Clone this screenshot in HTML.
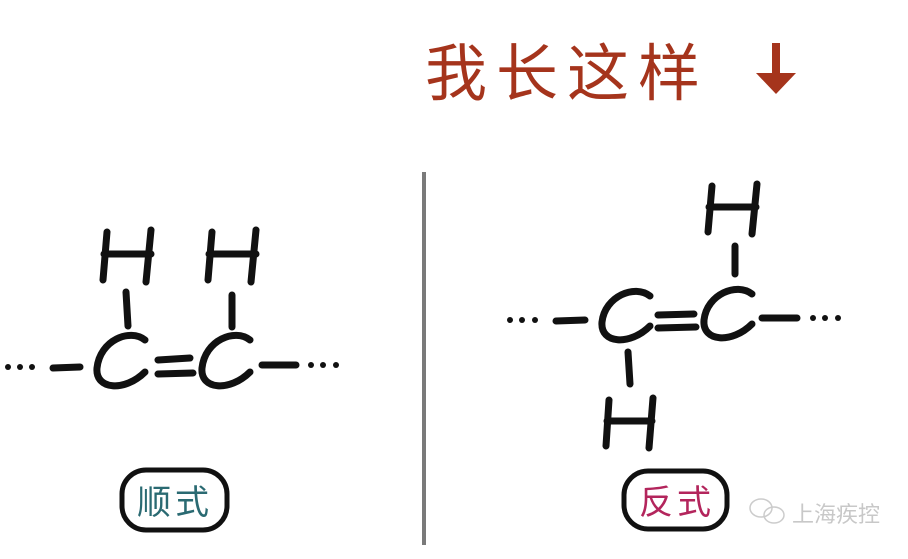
<!DOCTYPE html>
<html><head><meta charset="utf-8"><style>
html,body{margin:0;padding:0;background:#fff;}
body{width:908px;height:559px;overflow:hidden;position:relative;}
svg{position:absolute;left:0;top:0;}
</style></head><body>
<svg width="908" height="559" viewBox="0 0 908 559" xmlns="http://www.w3.org/2000/svg">
<g fill="none" stroke="#111" stroke-width="7" stroke-linecap="round">
<path d="M107 232 L103 280 M151 230 L146 282 M104 254 L151 254"/>
<path d="M212 232 L208 280 M256 230 L251 282 M209 254 L256 254"/>
<path d="M126 292 L128 326 M232 295 L232 327"/>
<path d="M145 340 C130 328 100 340 97 368 C95 390 125 392 145 372"/>
<path d="M250 340 C235 328 205 340 202 368 C200 390 230 392 250 372"/>
<path d="M158 360 L190 358 M158 374 L193 373"/>
<path d="M53 368 L80 367 M262 365 L296 365"/>
<path d="M712 186 L708 232 M757 184 L752 234 M709 207 L756 207"/>
<path d="M735 246 L735 274"/>
<path d="M650 296 C635 284 605 296 602 322 C600 344 630 346 650 326"/>
<path d="M752 294 C737 282 707 294 704 320 C702 342 732 344 752 324"/>
<path d="M658 315 L694 314 M658 328 L696 327"/>
<path d="M556 321 L585 320 M762 318 L797 318"/>
<path d="M628 352 L630 384"/>
<path d="M609 400 L606 446 M653 398 L649 448 M607 421 L652 421"/>
</g>
<g fill="#111">
<circle cx="8" cy="367" r="3"/><circle cx="20" cy="367" r="3"/><circle cx="32" cy="367" r="3"/>
<circle cx="311" cy="365" r="3"/><circle cx="323" cy="365" r="3"/><circle cx="336" cy="365" r="3"/>
<circle cx="510" cy="320" r="3"/><circle cx="522" cy="320" r="3"/><circle cx="535" cy="320" r="3"/>
<circle cx="813" cy="318" r="3"/><circle cx="825" cy="318" r="3"/><circle cx="838" cy="318" r="3"/>
</g>
<rect x="122" y="470" width="105" height="60" rx="24" fill="none" stroke="#111" stroke-width="5"/>
<rect x="624" y="471" width="103" height="58" rx="24" fill="none" stroke="#111" stroke-width="5"/>
<text x="175" y="514" text-anchor="middle" font-family="Liberation Sans, Noto Sans CJK SC, sans-serif" font-size="34" fill="#2a6a72" letter-spacing="4">顺式</text>
<text x="677" y="514" text-anchor="middle" font-family="Liberation Sans, Noto Sans CJK SC, sans-serif" font-size="34" fill="#b3255c" letter-spacing="4">反式</text>
<rect x="422" y="172" width="4" height="373" fill="#7a7a7a"/>
<text x="425" y="95" font-family="Liberation Sans, Noto Sans CJK SC, sans-serif" font-size="62" fill="#a5341c" letter-spacing="9">我长这样</text>
<rect x="772" y="43" width="8" height="34" fill="#a5341c"/>
<polygon points="756,73 796,73 776,94" fill="#a5341c"/>
<g fill="none" stroke="#ccc" stroke-width="1.5">
<ellipse cx="761" cy="508" rx="11" ry="9"/>
<ellipse cx="774" cy="515" rx="10" ry="8"/>
</g>
<text x="792" y="522" font-family="Liberation Sans, Noto Sans CJK SC, sans-serif" font-size="22" fill="#c8c8c8">上海疾控</text>
</svg>
</body></html>
